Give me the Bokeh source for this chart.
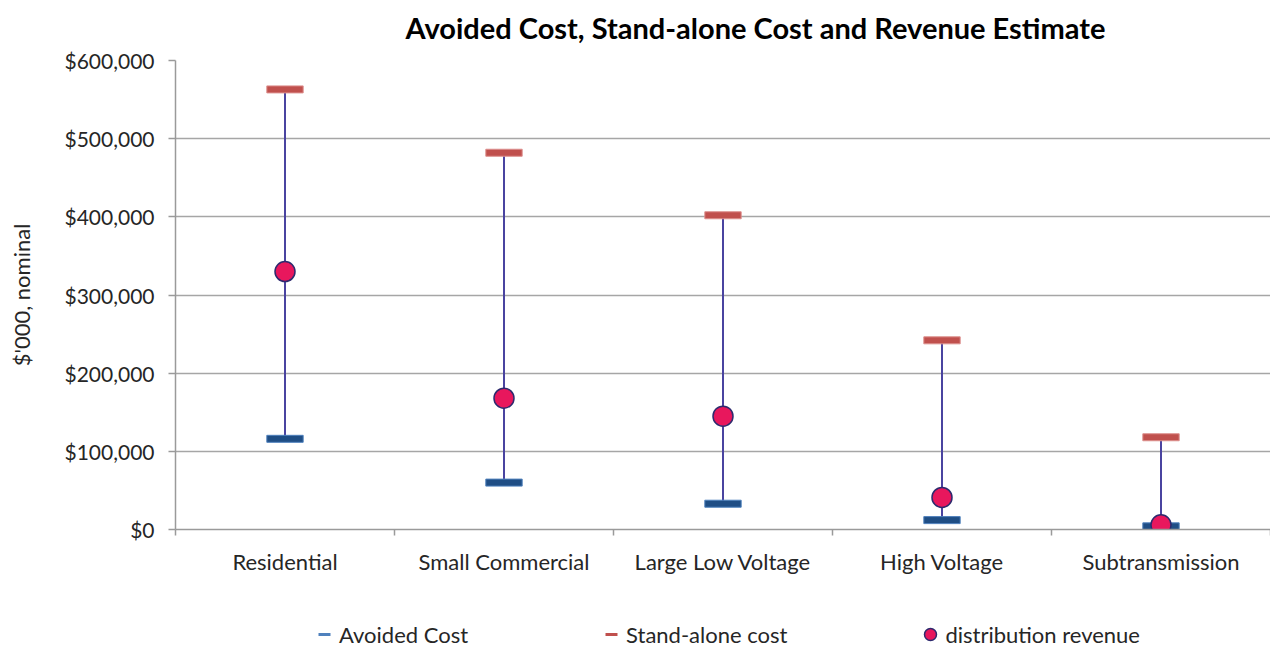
import math
from bokeh.plotting import figure
from bokeh.layouts import column
from bokeh.models import (ColumnDataSource, FixedTicker, NumeralTickFormatter,
                          Legend, LegendItem, Label)
from bokeh.embed import file_html
from bokeh.resources import INLINE

title_text = "Avoided Cost, Stand-alone Cost and Revenue Estimate"
categories = ["Residential", "Small Commercial", "Large Low Voltage", "High Voltage", "Subtransmission"]
avoided_cost = [116000, 60000, 33000, 12000, 4000]
standalone_cost = [563000, 482000, 402000, 242000, 118000]
distribution_revenue = [330000, 168000, 145000, 41000, 6000]
y_ticks = [0, 100000, 200000, 300000, 400000, 500000, 600000]

FONT = "Lato"
xpos = [i + 0.5 for i in range(len(categories))]

src = ColumnDataSource(dict(x=xpos, cat=categories, avoided=avoided_cost,
                            standalone=standalone_cost, revenue=distribution_revenue))

# title strip
top = figure(width=1270, height=45, output_backend="svg", toolbar_location=None,
             x_range=(0, 1), y_range=(0, 1))
top.min_border = 0
top.axis.visible = False
top.grid.visible = False
top.outline_line_color = None
top.add_layout(Label(x=580, y=18, x_units="screen", y_units="screen", text=title_text,
                     text_font=FONT, text_font_size="29px", text_font_style="bold",
                     text_color="#000000", text_align="center", text_baseline="middle"))

p = figure(width=1270, height=555, output_backend="svg", toolbar_location=None,
           x_range=(0, len(categories)), y_range=(0, 600000))
p.min_border_left = 175
p.min_border_right = 0
p.min_border_top = 15
p.min_border_bottom = 71
p.outline_line_color = None
p.background_fill_color = "white"

# y axis
p.yaxis.ticker = FixedTicker(ticks=y_ticks)
p.yaxis.formatter = NumeralTickFormatter(format="$0,0")
p.yaxis.axis_label = "$'000, nominal"
p.yaxis.axis_label_text_font = FONT
p.yaxis.axis_label_text_font_size = "22px"
p.yaxis.axis_label_text_font_style = "normal"
p.yaxis.axis_label_text_color = "#262626"
p.yaxis.axis_label_standoff = 26
p.yaxis.major_label_text_font = FONT
p.yaxis.major_label_text_font_size = "21px"
p.yaxis.major_label_text_color = "#262626"
p.yaxis.major_label_standoff = 14
p.yaxis.axis_line_color = "#9a9a9a"
p.yaxis.axis_line_width = 1.5
p.yaxis.major_tick_line_color = "#9a9a9a"
p.yaxis.major_tick_line_width = 1.5
p.yaxis.major_tick_out = 7
p.yaxis.major_tick_in = 0
p.yaxis.minor_tick_line_color = None

# x axis
p.xaxis.ticker = FixedTicker(ticks=xpos, minor_ticks=list(range(len(categories) + 1)))
p.xaxis.major_label_overrides = {x: c for x, c in zip(xpos, categories)}
p.xaxis.major_label_text_font = FONT
p.xaxis.major_label_text_font_size = "22px"
p.xaxis.major_label_text_color = "#262626"
p.xaxis.major_label_standoff = 12
p.xaxis.major_tick_line_color = None
p.xaxis.minor_tick_line_color = "#9a9a9a"
p.xaxis.minor_tick_line_width = 1.5
p.xaxis.minor_tick_out = 6
p.xaxis.minor_tick_in = 0
p.xaxis.axis_line_color = "#9a9a9a"
p.xaxis.axis_line_width = 1.5

p.xgrid.grid_line_color = None
p.ygrid.grid_line_color = "#a6a6a6"
p.ygrid.grid_line_width = 1.5

# high-low lines
p.segment(x0="x", y0="avoided", x1="x", y1="standalone", source=src,
          line_color="#4a44a0", line_width=2)

# dashes
p.rect(x="x", y="avoided", width=0.166, height=7, height_units="screen", source=src,
       fill_color="#1f4e85", line_color="#4f81bd", line_width=1)
p.rect(x="x", y="standalone", width=0.166, height=7, height_units="screen", source=src,
       fill_color="#c0504d", line_color="#dc8f8d", line_width=1)

# revenue
p.scatter(x="x", y="revenue", source=src, marker="circle", size=20,
          fill_color="#e8175d", line_color="#2e2a6e", line_width=1.5)

# legend strip below the chart
leg = figure(width=1270, height=47, output_backend="svg", toolbar_location=None,
             x_range=(0, 1), y_range=(0, 1))
leg.min_border = 0
leg.axis.visible = False
leg.grid.visible = False
leg.outline_line_color = None

nan = float("nan")
proxy = ColumnDataSource(dict(x=[0.5], y=[nan]))
r1 = leg.scatter(x="x", y="y", source=proxy, marker="dash", size=12,
                 line_color="#4f81bd", line_width=3)
r2 = leg.scatter(x="x", y="y", source=proxy, marker="dash", size=12,
                 line_color="#c0504d", line_width=3)
r3 = leg.scatter(x="x", y="y", source=proxy, marker="circle", size=12,
                 fill_color="#e8175d", line_color="#2e2a6e", line_width=1.5)

legend = Legend(items=[LegendItem(label="Avoided Cost", renderers=[r1]),
                       LegendItem(label="Stand-alone cost", renderers=[r2]),
                       LegendItem(label="distribution revenue", renderers=[r3])],
                orientation="horizontal", location=(134, -2),
                label_text_font=FONT, label_text_font_size="22px",
                label_text_color="#262626", glyph_width=30, glyph_height=30,
                label_standoff=0, spacing=128, padding=0, margin=0,
                border_line_color=None, background_fill_alpha=0)
leg.add_layout(legend, "center")

layout = column(top, p, leg, spacing=0)
open("out.html", "w").write(file_html(layout, INLINE))
